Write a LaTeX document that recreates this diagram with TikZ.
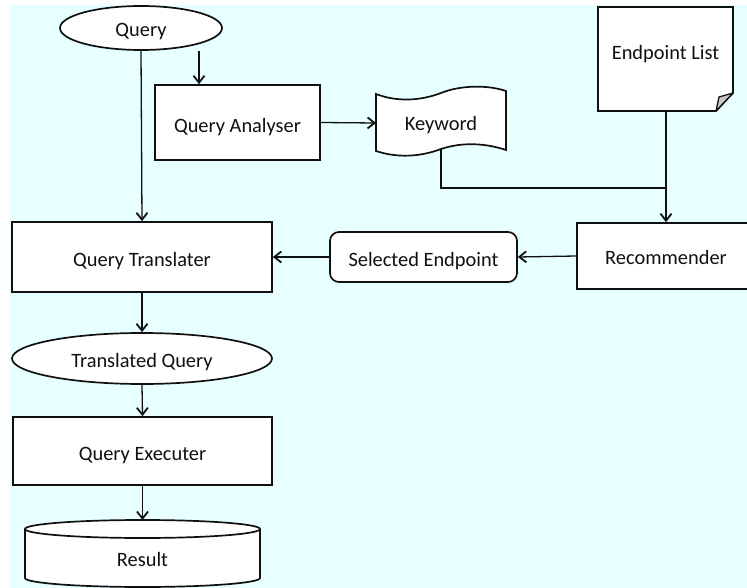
\documentclass[tikz,border=0pt]{standalone}
\usepackage{fontspec}
\setmainfont{Carlito}
\usetikzlibrary{arrows.meta,shapes.geometric}
\definecolor{bgcyan}{HTML}{E8FFFF}
\definecolor{inkc}{HTML}{101010}
\definecolor{foldgray}{HTML}{C8C8C8}
\tikzset{
  txt/.style={text=inkc, font=\fontsize{20.4}{24}\selectfont, text height=19pt, text depth=1pt},
  box/.style={txt, draw=inkc, fill=white, line width=1.7pt, inner sep=0pt},
  rbox/.style={box, rectangle},
  obox/.style={box, ellipse},
  plain/.style={txt, inner sep=0pt},
  shapeline/.style={draw=inkc, fill=white, line width=1.7pt},
  conn/.style={draw=inkc, line width=1.3pt},
  flow/.style={conn, -{Straight Barb[length=7pt, width=11pt, line width=1.8pt]}},
}
\begin{document}
\begin{tikzpicture}[x=1pt, y=-1pt]
  \useasboundingbox (0,0) rectangle (747,588);
  \fill[bgcyan] (10,5) rectangle (747,588);

  % simple boxes and terminators
  \node[obox, minimum width=162pt, minimum height=44pt] (query) at (141,28) {Query};
  \node[rbox, text height=22pt, minimum width=165pt, minimum height=75pt] (analyser) at (237.5,122.5) {Query Analyser};
  \node[rbox, minimum width=178pt, minimum height=66pt] (recommender) at (666,256) {Recommender};
  \node[rbox, rounded corners=9pt, minimum width=187pt, minimum height=50pt] (selected) at (423.5,257) {Selected Endpoint};
  \node[rbox, minimum width=260pt, minimum height=70pt] (translater) at (142,257) {Query Translater};
  \node[obox, minimum width=260pt, minimum height=51pt] (transq) at (142,358.5) {Translated Query};
  \node[rbox, minimum width=259pt, minimum height=68pt] (executer) at (142.5,451) {Query Executer};

  % punched tape: Keyword
  \path[shapeline] (376,94) .. controls (397,102) and (420,101) .. (441,93)
        .. controls (458,86) and (485,84) .. (506,91)
        -- (506,150) .. controls (485,143) and (462,142) .. (441,149)
        .. controls (420,157) and (397,158) .. (376,151) -- cycle;
  \node[plain] (keyword) at (441,122) {Keyword};
  \coordinate (kwL) at (376,123);
  \coordinate (kwB) at (441,149);

  % document with folded corner: Endpoint List
  \path[shapeline] (598,7) -- (733,7) -- (733,93) -- (716,111) -- (598,111) -- cycle;
  \path[draw=inkc, fill=foldgray, line width=1.3pt, line join=round]
        (733,93) -- (719,97) -- (716,111) -- cycle;
  \node[plain] (eplist) at (665.5,51) {Endpoint List};
  \coordinate (epB) at (666,111);

  % database cylinder: Result (y grows downwards here)
  \path[shapeline] (25,529) -- (25,578)
        arc[start angle=180, end angle=0, x radius=117.5, y radius=9]
        -- (260,529)
        arc[start angle=0, end angle=-180, x radius=117.5, y radius=9] -- cycle;
  \draw[inkc, line width=1.7pt] (25,529) arc[start angle=180, end angle=0, x radius=117.5, y radius=9];
  \node[plain] (result) at (142.5,557.5) {Result};
  \coordinate (resTop) at (142.5,520);

  % connectors
  \draw[flow] (query.south) -- (translater.north);
  \draw[flow] (query.south -| 199,0) -- (analyser.north -| 199,0);
  \draw[flow] (analyser.east) -- (kwL);
  \coordinate (join) at (666,188);
  \draw[conn] (kwB) -- (kwB |- join) -- (join);
  \draw[flow] (epB) -- (recommender.north);
  \draw[flow] (recommender.west) -- (selected.east);
  \draw[flow] (selected.west) -- (translater.east);
  \draw[flow] (translater.south) -- (transq.north);
  \draw[flow] (transq.south) -- (executer.north);
  \draw[flow] (executer.south) -- (resTop);
\end{tikzpicture}
\end{document}
